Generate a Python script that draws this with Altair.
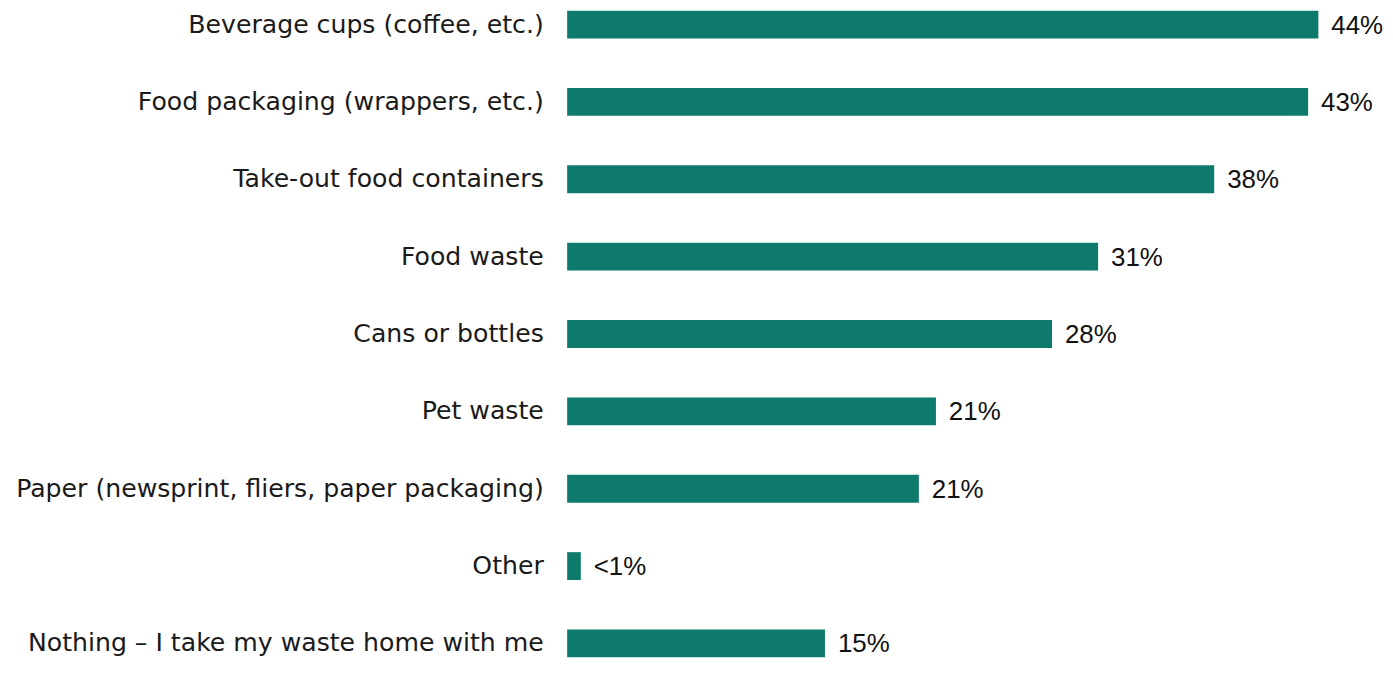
import altair as alt
import pandas as pd

categories = [
    "Beverage cups (coffee, etc.)",
    "Food packaging (wrappers, etc.)",
    "Take-out food containers",
    "Food waste",
    "Cans or bottles",
    "Pet waste",
    "Paper (newsprint, fliers, paper packaging)",
    "Other",
    "Nothing \u2013 I take my waste home with me",
]
values = [44.0, 43.4, 37.9, 31.1, 28.4, 21.6, 20.6, 0.8, 15.1]
labels = ["44%", "43%", "38%", "31%", "28%", "21%", "21%", "<1%", "15%"]

df = pd.DataFrame({"category": categories, "value": values, "label": labels})

y_enc = alt.Y(
    "category:N",
    sort=categories,
    title=None,
    scale=alt.Scale(paddingInner=0.6401, paddingOuter=0.0128, round=False),
    axis=alt.Axis(
        domain=False,
        ticks=False,
        grid=False,
        labelPadding=24,
        labelFont="DejaVu Sans",
        labelFontSize=25.3,
        labelColor="#1a1a1a",
        labelLimit=0,
    ),
)
x_enc = alt.X(
    "value:Q",
    title=None,
    scale=alt.Scale(domain=[0, 47.67], nice=False),
    axis=None,
)

bars = alt.Chart(df).mark_bar(color="#0e7a6b").encode(x=x_enc, y=y_enc)
text = alt.Chart(df).mark_text(
    align="left", baseline="middle", dx=13, dy=1, font="Liberation Sans", fontSize=26, color="#111111"
).encode(x=x_enc, y=y_enc, text="label:N")

chart = (
    alt.layer(bars, text)
    .properties(
        width=818,
        height=652,
        background="white",
        autosize=alt.AutoSizeParams(type="none"),
        padding={"left": 562, "top": 0, "right": 4, "bottom": 0},
    )
    .configure_view(stroke=None)
    .configure_axis(grid=False)
)

chart.save("out.html", embed_options={"renderer": "svg", "actions": False})
